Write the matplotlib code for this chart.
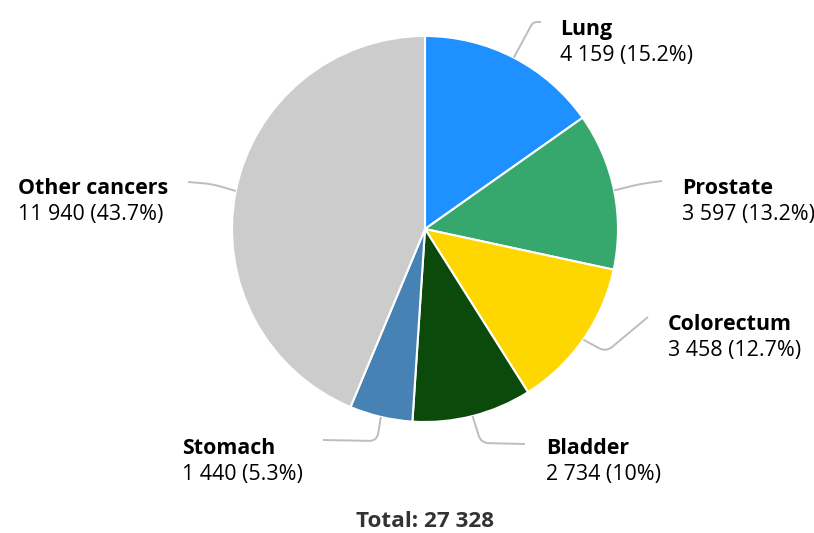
import numpy as np
import matplotlib
matplotlib.use('Agg')
import matplotlib.pyplot as plt
from matplotlib.path import Path
from matplotlib.patches import PathPatch

# ── Data ───────────────────────────────────────────────────────────────────────
categories = ['Lung', 'Prostate', 'Colorectum', 'Bladder', 'Stomach', 'Other cancers']
values = [4159, 3597, 3458, 2734, 1440, 11940]
colors = ['#1E90FF', '#36A86E', '#FFD700', '#0B4A0B', '#4682B4', '#CCCCCC']

# ── Layout (pixel coords, y down) ──────────────────────────────────────────────
W, H = 814, 533
CX, CY, R = 425, 229, 193
# label: x, baseline of name
label_pos = [(560, 35), (682, 194), (668, 330), (546, 454), (182, 454), (18, 194)]
# connector: elbow point and end point
connectors = [
    ((533, 22), (541, 22)),
    ((640, 184), (662, 181)),
    ((606, 352), (648, 317)),
    ((481, 443), (525, 444)),
    ((377, 441), (323, 440)),
    ((212, 184), (188, 182)),
]

plt.rcParams['font.family'] = ['Open Sans', 'Noto Sans', 'DejaVu Sans']

fig = plt.figure(figsize=(W / 100, H / 100), dpi=100)
ax = fig.add_axes([0, 0, 1, 1])
ax.axis('off')


def fy(y):
    return H - y


total = sum(values)
ax.pie(values, colors=colors, startangle=90, counterclock=False,
       radius=R, center=(CX, fy(CY)),
       wedgeprops=dict(edgecolor='white', linewidth=1.5))
ax.set_xlim(0, W)
ax.set_ylim(0, H)
ax.set_aspect('equal')


def fmt(v):
    pct = round(v / total * 100, 1)
    pct_s = f'{pct:.1f}'.rstrip('0').rstrip('.')
    return f'{v:,}'.replace(',', ' ') + f' ({pct_s}%)'


cum = 0
for name, v, (lx, ly), (elbow, end) in zip(categories, values, label_pos, connectors):
    mid = (cum + v / 2) / total * 2 * np.pi
    cum += v
    sx = CX + R * np.sin(mid)
    sy = CY - R * np.cos(mid)
    p0 = np.array([sx, fy(sy)])
    pe = np.array([elbow[0], fy(elbow[1])])
    pz = np.array([end[0], fy(end[1])])
    d1 = (pe - p0) / np.linalg.norm(pe - p0)
    d2 = (pz - pe) / np.linalg.norm(pz - pe)
    rr = min(8, np.linalg.norm(pz - pe) / 2)
    p1 = pe - d1 * rr
    p2 = pe + d2 * rr
    path = Path([p0, p1, pe, p2, pz],
                [Path.MOVETO, Path.LINETO, Path.CURVE3, Path.CURVE3, Path.LINETO])
    ax.add_patch(PathPatch(path, fill=False, edgecolor='#BDBDBD', linewidth=1.4))

    ax.text(lx, fy(ly), name, fontsize=15.4, fontweight='bold', color='#000000',
            ha='left', va='baseline')
    ax.text(lx, fy(ly + 26), fmt(v), fontsize=15.4, color='#000000',
            ha='left', va='baseline')

ax.text(CX, fy(527), 'Total: ' + f'{total:,}'.replace(',', ' '), fontsize=16.2,
        fontweight='bold', color='#333333', ha='center', va='baseline')

fig.savefig('out.png', dpi=100)
